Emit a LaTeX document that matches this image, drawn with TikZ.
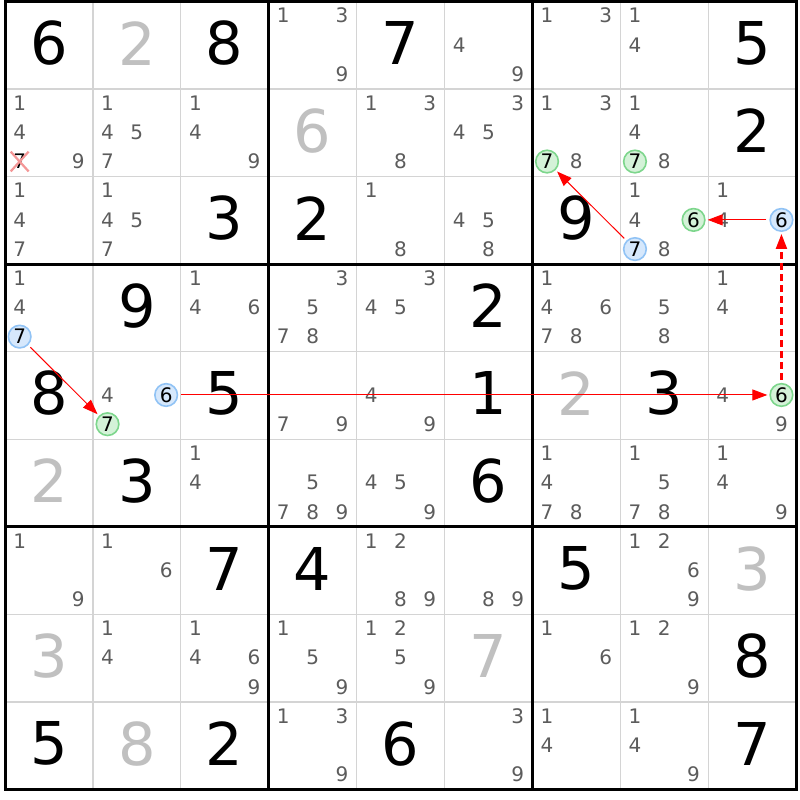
\documentclass[tikz,border=0pt]{standalone}
\usepackage{fontspec}
\setmainfont{DejaVu Sans}
\usetikzlibrary{positioning, calc, arrows.meta, shapes.misc}

\definecolor{pencilgray}{RGB}{92,92,92}
\definecolor{placedgray}{RGB}{192,192,192}
\definecolor{gridgray}{RGB}{212,212,212}
\definecolor{ringblue}{RGB}{145,195,245}
\definecolor{fillblue}{RGB}{214,232,252}
\definecolor{ringgreen}{RGB}{125,214,140}
\definecolor{fillgreen}{RGB}{212,242,216}
\definecolor{cutpink}{RGB}{244,150,150}

\newcommand{\cellx}[1]{5+(#1-0.5)*87.9}
\newcommand{\celly}[1]{1.5+(#1-0.5)*87.55}
\newcommand{\bigdigit}[4]{\node[#1] (r#3c#2) at ({\cellx{#2}},{\celly{#3}-2}) {#4};}
\newcommand{\pencilmarks}[3]{%
  \foreach \d in {#3} {
    \pgfmathsetmacro{\px}{\cellx{#1}+(mod(\d-1,3)-1)*29.3}
    \pgfmathsetmacro{\py}{\celly{#2}+(floor((\d-1)/3)-1)*29.2-0.5}
    \node[pencil] (r#2c#1n\d) at (\px,\py) {\d};
  }}
\newcommand{\ringmark}[4]{%
  \pgfmathsetmacro{\px}{\cellx{#2}+(mod(#4-1,3)-1)*29.3}
  \pgfmathsetmacro{\py}{\celly{#3}+(floor((#4-1)/3)-1)*29.2-0.5}
  \node[#1] (r#3c#2n#4) at (\px,\py) {#4};}

\begin{document}
\begin{tikzpicture}[x=1pt, y=-1pt,
    clue/.style={inner sep=0pt, font=\fontsize{59}{60}\selectfont},
    placed/.style={clue, text=placedgray},
    pencil/.style={inner sep=0pt, text=pencilgray, font=\fontsize{20}{21}\selectfont},
    bluering/.style={pencil, text=black, circle, minimum size=22.6pt, draw=ringblue, fill=fillblue, line width=1.6pt},
    greenring/.style={bluering, draw=ringgreen, fill=fillgreen},
    struck/.style={pencil, text=black, cross out, draw=cutpink, line width=2.2pt, inner sep=1.5pt},
    thingrid/.style={gridgray, line width=1.2pt},
    boxline/.style={black, line width=3pt},
    chain/.style={draw=red, line width=1pt, -{Triangle[length=15pt,width=11pt]}, shorten <=3pt, shorten >=2pt},
    weaklink/.style={draw=red, dash pattern=on 7pt off 4pt, line width=2.2pt}]
  \fill[white] (0,0) rectangle (800,800);
  \useasboundingbox (0,0) rectangle (800,800);
  \foreach \i in {1,2,4,5,7,8} {
    \draw[thingrid] (5+\i*87.9,1.5) -- (5+\i*87.9,789.45);
    \draw[thingrid] (5,1.5+\i*87.55) -- (796.1,1.5+\i*87.55);
  }
  \foreach \i in {3,6} {
    \draw[boxline] (5+\i*87.9,1.5) -- (5+\i*87.9,789.45);
    \draw[boxline] (5,1.5+\i*87.55) -- (796.1,1.5+\i*87.55);
  }
  \draw[boxline] (5,1.5) rectangle (796.1,789.45);

  \bigdigit{clue}{1}{1}{6} \bigdigit{placed}{2}{1}{2} \bigdigit{clue}{3}{1}{8}
  \pencilmarks{4}{1}{1,3,9} \bigdigit{clue}{5}{1}{7} \pencilmarks{6}{1}{4,9}
  \pencilmarks{7}{1}{1,3} \pencilmarks{8}{1}{1,4} \bigdigit{clue}{9}{1}{5}

  \pencilmarks{1}{2}{1,4,9} \ringmark{struck}{1}{2}{7}
  \pencilmarks{2}{2}{1,4,5,7} \pencilmarks{3}{2}{1,4,9}
  \bigdigit{placed}{4}{2}{6} \pencilmarks{5}{2}{1,3,8} \pencilmarks{6}{2}{3,4,5}
  \pencilmarks{7}{2}{1,3,8} \ringmark{greenring}{7}{2}{7}
  \pencilmarks{8}{2}{1,4,8} \ringmark{greenring}{8}{2}{7}
  \bigdigit{clue}{9}{2}{2}

  \pencilmarks{1}{3}{1,4,7} \pencilmarks{2}{3}{1,4,5,7} \bigdigit{clue}{3}{3}{3}
  \bigdigit{clue}{4}{3}{2} \pencilmarks{5}{3}{1,8} \pencilmarks{6}{3}{4,5,8}
  \bigdigit{clue}{7}{3}{9}
  \pencilmarks{8}{3}{1,4,8} \ringmark{greenring}{8}{3}{6} \ringmark{bluering}{8}{3}{7}
  \pencilmarks{9}{3}{1,4} \ringmark{bluering}{9}{3}{6}

  \pencilmarks{1}{4}{1,4} \ringmark{bluering}{1}{4}{7}
  \bigdigit{clue}{2}{4}{9} \pencilmarks{3}{4}{1,4,6}
  \pencilmarks{4}{4}{3,5,7,8} \pencilmarks{5}{4}{3,4,5} \bigdigit{clue}{6}{4}{2}
  \pencilmarks{7}{4}{1,4,6,7,8} \pencilmarks{8}{4}{5,8} \pencilmarks{9}{4}{1,4}

  \bigdigit{clue}{1}{5}{8}
  \pencilmarks{2}{5}{4} \ringmark{bluering}{2}{5}{6} \ringmark{greenring}{2}{5}{7}
  \bigdigit{clue}{3}{5}{5}
  \pencilmarks{4}{5}{7,9} \pencilmarks{5}{5}{4,9} \bigdigit{clue}{6}{5}{1}
  \bigdigit{placed}{7}{5}{2} \bigdigit{clue}{8}{5}{3}
  \pencilmarks{9}{5}{4,9} \ringmark{greenring}{9}{5}{6}

  \bigdigit{placed}{1}{6}{2} \bigdigit{clue}{2}{6}{3} \pencilmarks{3}{6}{1,4}
  \pencilmarks{4}{6}{5,7,8,9} \pencilmarks{5}{6}{4,5,9} \bigdigit{clue}{6}{6}{6}
  \pencilmarks{7}{6}{1,4,7,8} \pencilmarks{8}{6}{1,5,7,8} \pencilmarks{9}{6}{1,4,9}

  \pencilmarks{1}{7}{1,9} \pencilmarks{2}{7}{1,6} \bigdigit{clue}{3}{7}{7}
  \bigdigit{clue}{4}{7}{4} \pencilmarks{5}{7}{1,2,8,9} \pencilmarks{6}{7}{8,9}
  \bigdigit{clue}{7}{7}{5} \pencilmarks{8}{7}{1,2,6,9} \bigdigit{placed}{9}{7}{3}

  \bigdigit{placed}{1}{8}{3} \pencilmarks{2}{8}{1,4} \pencilmarks{3}{8}{1,4,6,9}
  \pencilmarks{4}{8}{1,5,9} \pencilmarks{5}{8}{1,2,5,9} \bigdigit{placed}{6}{8}{7}
  \pencilmarks{7}{8}{1,6} \pencilmarks{8}{8}{1,2,9} \bigdigit{clue}{9}{8}{8}

  \bigdigit{clue}{1}{9}{5} \bigdigit{placed}{2}{9}{8} \bigdigit{clue}{3}{9}{2}
  \pencilmarks{4}{9}{1,3,9} \bigdigit{clue}{5}{9}{6} \pencilmarks{6}{9}{3,9}
  \pencilmarks{7}{9}{1,4} \pencilmarks{8}{9}{1,4,9} \bigdigit{clue}{9}{9}{7}

  \draw[chain] (r4c1n7) -- (r5c2n7);
  \draw[chain] (r5c2n6) -- (r5c9n6);
  \draw[chain, weaklink] (r5c9n6) -- (r3c9n6);
  \draw[chain] (r3c9n6) -- (r3c8n6);
  \draw[chain] (r3c8n7) -- (r2c7n7);
\end{tikzpicture}
\end{document}
